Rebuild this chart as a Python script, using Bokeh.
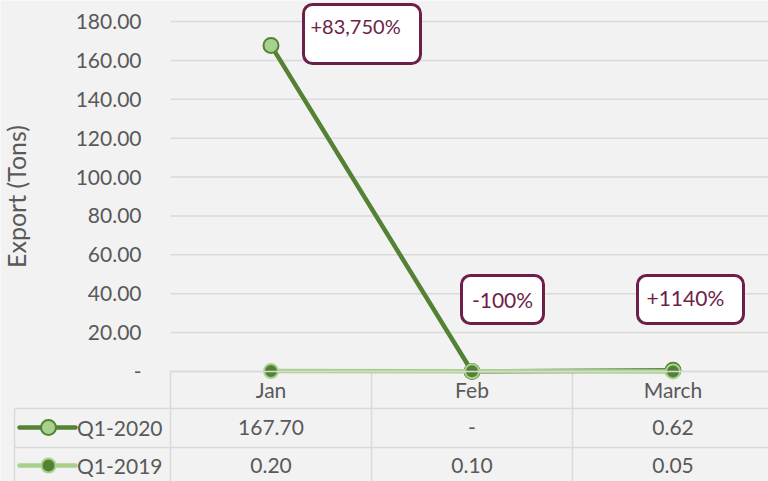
from bokeh.plotting import figure
from bokeh.models import (Range1d, LinearAxis, FixedTicker, NumeralTickFormatter,
                          BoxAnnotation, Label)
from bokeh.core.properties import value
from bokeh.embed import file_html
from bokeh.resources import INLINE

# ---------------- data ----------------
months = ["Jan", "Feb", "March"]
series_names = ["Q1-2020", "Q1-2019"]
q2020 = [167.70, 0.0, 0.62]
q2019 = [0.20, 0.10, 0.05]
y_ticks = [0, 20, 40, 60, 80, 100, 120, 140, 160, 180]
changes = ["+83,750%", "-100%", "+1140%"]

# ---------------- styles ----------------
BG = "#f2f2f2"
GRID = "#d9d9d9"
TXT = "#595959"
DARK = "#548235"
LIGHT = "#a9d18e"
MAROON = "#6d1e4b"
FONT = "Lato"
FS = "21px"

# pixel layout helpers (page pixels -> data units)
X0, CW = 170.0, 201.0          # left of first category, category width
Y0, PPU = 371.0, 350.0 / 180.0  # value 0 position, pixels per unit
PAGE_L, PAGE_T, W, H = 0, 0, 768, 481


def dx(px):
    return (px - X0) / CW


def dy(py):
    return (Y0 - py) / PPU


xs = [i + 0.5 for i in range(len(months))]
ncat = len(months)

p = figure(width=W, height=H,
           x_range=Range1d(dx(PAGE_L), dx(PAGE_L + W)),
           y_range=Range1d(dy(PAGE_T + H), dy(PAGE_T)),
           x_axis_type=None, y_axis_type=None,
           output_backend="svg", toolbar_location=None,
           min_border=0, min_border_left=0, min_border_right=0,
           min_border_top=0, min_border_bottom=0,
           background_fill_color=BG, border_fill_color=BG,
           outline_line_color=None)
p.grid.visible = False

# gridlines (value axis)
p.segment(x0=[0] * len(y_ticks), x1=[ncat] * len(y_ticks), y0=y_ticks, y1=y_ticks,
          line_color=GRID, line_width=1.5)

# y axis
yax = LinearAxis(fixed_location=0, ticker=FixedTicker(ticks=y_ticks),
                 formatter=NumeralTickFormatter(format="0.00"),
                 major_label_overrides={0: "-"}, bounds=(min(y_ticks), max(y_ticks)),
                 axis_line_color=None, major_tick_line_color=None,
                 minor_tick_line_color=None, major_tick_out=0, major_tick_in=0,
                 major_label_standoff=29,
                 major_label_text_font=FONT, major_label_text_font_size=FS,
                 major_label_text_color=TXT,
                 axis_label="Export (Tons)", axis_label_standoff=42,
                 axis_label_text_font=FONT, axis_label_text_font_size="25px",
                 axis_label_text_font_style="normal", axis_label_text_color=TXT)
p.add_layout(yax, "left")

# x axis (category labels)
xax = LinearAxis(fixed_location=0, ticker=FixedTicker(ticks=xs),
                 major_label_overrides={x: m for x, m in zip(xs, months)},
                 bounds=(0, ncat),
                 axis_line_color=GRID, axis_line_width=1.5,
                 major_tick_line_color=None, minor_tick_line_color=None,
                 major_tick_out=0, major_tick_in=0, major_label_standoff=5,
                 major_label_text_font=FONT, major_label_text_font_size=FS,
                 major_label_text_color=TXT)
p.add_layout(xax, "below")

# data table grid
ybot = dy(PAGE_T + H + 10)
row_lines = [dy(408), dy(447)]
p.segment(x0=[dx(14)] * 2, x1=[ncat] * 2, y0=row_lines, y1=row_lines,
          line_color=GRID, line_width=1.5)
p.segment(x0=list(range(ncat + 1)), x1=list(range(ncat + 1)),
          y0=[0] * (ncat + 1), y1=[ybot] * (ncat + 1),
          line_color=GRID, line_width=1.5)
p.segment(x0=[dx(14)], x1=[dx(14)], y0=[dy(408)], y1=[ybot],
          line_color=GRID, line_width=1.5)


def fmt(v):
    return "-" if v == 0 else f"{v:.2f}"


rows_y = [dy(427), dy(465)]
for vals, ry in zip([q2020, q2019], rows_y):
    p.text(x=xs, y=[ry] * ncat, text=[fmt(v) for v in vals],
           text_align="center", text_baseline="middle",
           text_font=value(FONT), text_font_size=FS, text_color=TXT)

# legend keys inside the table
styles = [(DARK, LIGHT, DARK, 15), (LIGHT, DARK, LIGHT, 14)]
for name, ry, (lc, mf, ml, ms) in zip(series_names, rows_y, styles):
    p.segment(x0=[dx(19)], x1=[dx(75)], y0=[ry], y1=[ry],
              line_color=lc, line_width=4.5, line_cap="round")
    p.scatter(x=[dx(48)], y=[ry], size=ms, fill_color=mf, line_color=ml, line_width=2)
    p.text(x=[dx(162)], y=[ry], text=[name], text_align="right", text_baseline="middle",
           text_font=value(FONT), text_font_size=FS, text_color=TXT)

# series lines
p.line(xs, q2020, line_color=DARK, line_width=4.5, line_join="round", line_cap="round")
p.scatter(xs, q2020, size=15, fill_color=LIGHT, line_color=DARK, line_width=2)
p.line(xs, q2019, line_color=LIGHT, line_width=4.5, line_join="round", line_cap="round")
p.scatter(xs, q2019, size=14, fill_color=DARK, line_color=LIGHT, line_width=2)

# change callouts
boxes = [(303, 420, 4, 63), (461, 543, 275, 323), (637, 743, 275, 323)]
texts = [(310, 25, "left", "20px"), (502, 299, "center", FS), (646, 297, "left", FS)]
for (l, r, t, b), (tx, ty, al, fs), txt in zip(boxes, texts, changes):
    p.add_layout(BoxAnnotation(left=dx(l), right=dx(r), top=dy(t), bottom=dy(b),
                               fill_color="white", fill_alpha=1.0,
                               line_color=MAROON, line_width=3, line_alpha=1.0,
                               border_radius=9))
    p.add_layout(Label(x=dx(tx), y=dy(ty), text=txt, text_align=al,
                       text_baseline="middle", text_font=FONT, text_font_size=fs,
                       text_color=MAROON))

open("out.html", "w").write(file_html(p, INLINE))
